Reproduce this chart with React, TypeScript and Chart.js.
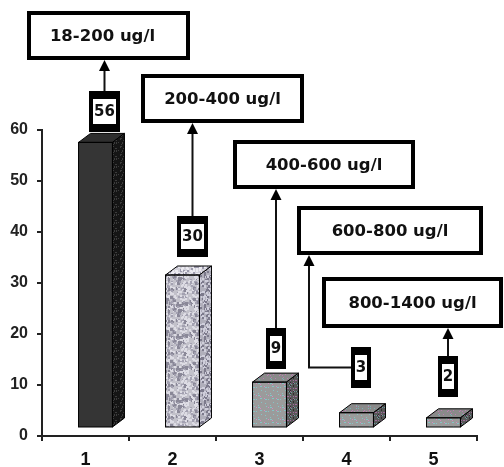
import React, { useEffect, useRef } from 'react';
import { Chart, registerables } from 'chart.js';

Chart.register(...registerables);

// ---- data ----
const categories = ['1', '2', '3', '4', '5'];
const values = [56, 30, 9, 3, 2];
const rangeLabels = ['18-200 ug/l', '200-400 ug/l', '400-600 ug/l', '600-800 ug/l', '800-1400 ug/l'];
const yMin = 0;
const yMax = 60;
const yStep = 10;

// ---- layout / style ----
const W = 504;
const H = 467;
const LABEL_BOXES = [
  { x: 27, y: 11, w: 163, h: 49, tdx: -6 },
  { x: 141, y: 74, w: 163, h: 49, tdx: 0 },
  { x: 233, y: 140, w: 182, h: 49, tdx: 0 },
  { x: 297, y: 206, w: 186, h: 49, tdx: 0 },
  { x: 322, y: 277, w: 181, h: 51, tdx: 0 },
];
const VALUE_BOX_OFFSETS = [
  { dx: 18.5, dy: -18 },
  { dx: 19.5, dy: -26 },
  { dx: 16.5, dy: -21 },
  { dx: 14, dy: -33 },
  { dx: 14, dy: -29 },
];
const ELBOW_INDEX = 3;
const FRONT_SHIFT = { x: 10, y: -8 };
const DEPTH = { x: 12, y: -9 };
const AXIS_COLOR = '#222';
const TICK_FONT = '"Liberation Sans", Arial, sans-serif';
const BOX_FONT = '"DejaVu Sans", sans-serif';

function hash(i: number, j: number, seed: number) {
  let h = Math.imul(i + 1, 374761393) ^ Math.imul(j + 7, 668265263) ^ Math.imul(seed + 3, 1274126177);
  h = Math.imul(h ^ (h >>> 13), 1274126177);
  h = h ^ (h >>> 16);
  return ((h >>> 0) % 10000) / 10000;
}

function makePattern(size: number, base: string, spots: { color: string; p: number; s?: number }[], seed: number) {
  const c = document.createElement('canvas');
  c.width = size;
  c.height = size;
  const g = c.getContext('2d')!;
  g.fillStyle = base;
  g.fillRect(0, 0, size, size);
  for (let i = 0; i < size; i++) {
    for (let j = 0; j < size; j++) {
      const r = hash(i, j, seed);
      let acc = 0;
      for (const sp of spots) {
        acc += sp.p;
        if (r < acc) {
          g.fillStyle = sp.color;
          const s = sp.s || 1;
          g.fillRect(i, j, s, s);
          break;
        }
      }
    }
  }
  return g.createPattern(c, 'repeat')!;
}

export default function App() {
  const ref = useRef<HTMLCanvasElement | null>(null);

  useEffect(() => {
    if (!ref.current) return;

    const granite = makePattern(32, '#c2c1ca', [
      { color: '#8a8898', p: 0.04, s: 3 },
      { color: '#a3a1b1', p: 0.08, s: 2 },
      { color: '#dddce4', p: 0.1, s: 2 },
    ], 5);
    const graniteTop = makePattern(32, '#d2d1da', [
      { color: '#9c9aac', p: 0.08, s: 2 },
      { color: '#ebeaf0', p: 0.12, s: 2 },
    ], 9);
    const graniteSide = makePattern(32, '#b0afbb', [
      { color: '#7c7a8c', p: 0.08, s: 2 },
      { color: '#cfcedb', p: 0.1, s: 2 },
    ], 13);
    const dotted = makePattern(12, '#9b9b9b', [
      { color: '#d48ac4', p: 0.025 },
      { color: '#86c4c6', p: 0.025 },
    ], 2);
    const dottedTop = makePattern(12, '#8a8a8a', [
      { color: '#c07ab4', p: 0.03 },
      { color: '#7ab4b6', p: 0.03 },
    ], 4);
    const dottedSide = makePattern(8, '#585858', [
      { color: '#a06c9c', p: 0.08 },
      { color: '#6c9c9e', p: 0.08 },
      { color: '#303030', p: 0.1 },
    ], 6);
    const darkSide = makePattern(8, '#151515', [{ color: '#3c3c3c', p: 0.12 }], 8);

    const frontFill = ['#353535', granite, dotted, dotted, dotted];
    const faceStyles = [
      { top: '#2e2e2e', side: darkSide },
      { top: graniteTop, side: graniteSide },
      { top: dottedTop, side: dottedSide },
      { top: dottedTop, side: dottedSide },
      { top: dottedTop, side: dottedSide },
    ];

    const bar3d = {
      id: 'bar3d',
      beforeDatasetsDraw(chart: any) {
        chart.ctx.save();
        chart.ctx.translate(FRONT_SHIFT.x, FRONT_SHIFT.y);
      },
      afterDatasetsDraw(chart: any) {
        const ctx = chart.ctx as CanvasRenderingContext2D;
        const meta = chart.getDatasetMeta(0);
        meta.data.forEach((bar: any, i: number) => {
          const { x, y, base, width } = bar.getProps(['x', 'y', 'base', 'width'], true);
          const l = x - width / 2;
          const r = x + width / 2;
          const st = faceStyles[i];
          ctx.lineWidth = 1;
          ctx.strokeStyle = '#000';
          ctx.beginPath();
          ctx.moveTo(l, y);
          ctx.lineTo(l + DEPTH.x, y + DEPTH.y);
          ctx.lineTo(r + DEPTH.x, y + DEPTH.y);
          ctx.lineTo(r, y);
          ctx.closePath();
          ctx.fillStyle = st.top as any;
          ctx.fill();
          ctx.stroke();
          ctx.beginPath();
          ctx.moveTo(r, y);
          ctx.lineTo(r + DEPTH.x, y + DEPTH.y);
          ctx.lineTo(r + DEPTH.x, base + DEPTH.y);
          ctx.lineTo(r, base);
          ctx.closePath();
          ctx.fillStyle = st.side as any;
          ctx.fill();
          ctx.stroke();
          ctx.strokeRect(l, y, width, base - y);
        });
        ctx.restore();
      },
    };

    const annotations = {
      id: 'annotations',
      afterDraw(chart: any) {
        const ctx = chart.ctx as CanvasRenderingContext2D;
        const meta = chart.getDatasetMeta(0);
        const yScale = chart.scales.y;
        ctx.save();
        LABEL_BOXES.forEach((b, i) => {
          ctx.fillStyle = '#fff';
          ctx.fillRect(b.x, b.y, b.w, b.h);
          ctx.lineWidth = 4;
          ctx.strokeStyle = '#000';
          ctx.strokeRect(b.x + 2, b.y + 2, b.w - 4, b.h - 4);
          ctx.fillStyle = '#111';
          ctx.font = `bold 16.5px ${BOX_FONT}`;
          ctx.textAlign = 'center';
          ctx.textBaseline = 'middle';
          ctx.fillText(rangeLabels[i], b.x + b.w / 2 + b.tdx, b.y + b.h / 2 + 1);
        });
        values.forEach((v, i) => {
          const bar = meta.data[i];
          const off = VALUE_BOX_OFFSETS[i];
          const cx = bar.x + off.dx;
          const bottom = yScale.getPixelForValue(v) + off.dy;
          const text = String(v);
          ctx.font = `bold 15px ${BOX_FONT}`;
          const tw = ctx.measureText(text).width;
          const bw = Math.round(tw + 10);
          const bh = 41;
          const left = Math.round(cx - bw / 2);
          const top = Math.round(bottom - bh);
          ctx.fillStyle = '#000';
          ctx.fillRect(left, top, bw, bh);
          ctx.fillStyle = '#fff';
          ctx.fillRect(left + 4, top + 8, bw - 8, bh - 16);
          ctx.fillStyle = '#111';
          ctx.textAlign = 'center';
          ctx.textBaseline = 'middle';
          ctx.fillText(text, left + bw / 2, top + bh / 2 + 1);

          const lb = LABEL_BOXES[i];
          const apexY = lb.y + lb.h;
          let ax: number;
          ctx.strokeStyle = '#111';
          ctx.lineWidth = 2;
          ctx.beginPath();
          if (i === ELBOW_INDEX) {
            ax = lb.x + 12;
            const my = top + bh / 2;
            ctx.moveTo(left, my);
            ctx.lineTo(ax, my);
            ctx.lineTo(ax, apexY + 10);
          } else {
            ax = left + bw / 2;
            ctx.moveTo(ax, top);
            ctx.lineTo(ax, apexY + 10);
          }
          ctx.stroke();
          ctx.fillStyle = '#000';
          ctx.beginPath();
          ctx.moveTo(ax, apexY);
          ctx.lineTo(ax - 5.5, apexY + 11);
          ctx.lineTo(ax + 5.5, apexY + 11);
          ctx.closePath();
          ctx.fill();
        });
        ctx.restore();
      },
    };

    const chart = new Chart(ref.current, {
      type: 'bar',
      data: {
        labels: categories,
        datasets: [
          {
            data: values,
            backgroundColor: frontFill as any,
            borderWidth: 0,
            barPercentage: 0.39,
            categoryPercentage: 1,
            clip: false as any,
          },
        ],
      },
      options: {
        animation: false,
        responsive: false,
        devicePixelRatio: 1,
        layout: { padding: { top: 130, right: 27, left: 0, bottom: 0 } },
        plugins: { legend: { display: false }, tooltip: { enabled: false } },
        scales: {
          x: {
            grid: { display: true, drawOnChartArea: false, drawTicks: true, tickLength: 5, color: AXIS_COLOR, lineWidth: 2, offset: true },
            border: { display: true, color: AXIS_COLOR, width: 2 },
            ticks: { color: '#111', font: { family: TICK_FONT, size: 18, weight: 'bold' }, padding: 8 },
            afterFit: (s: any) => { s.height = 31; },
          },
          y: {
            min: yMin,
            max: yMax,
            grid: { display: true, drawOnChartArea: false, drawTicks: true, tickLength: 5, color: AXIS_COLOR, lineWidth: 2 },
            border: { display: true, color: AXIS_COLOR, width: 2 },
            ticks: { stepSize: yStep, color: '#222', font: { family: TICK_FONT, size: 16, weight: 'bold' }, padding: 9 },
            afterFit: (s: any) => { s.width = 42; },
          },
        },
      },
      plugins: [bar3d, annotations],
    });

    return () => chart.destroy();
  }, []);

  return (
    <div style={{ position: 'fixed', left: 0, top: 0, width: W, height: H, background: '#fff' }}>
      <canvas ref={ref} width={W} height={H} style={{ display: 'block' }} />
    </div>
  );
}
